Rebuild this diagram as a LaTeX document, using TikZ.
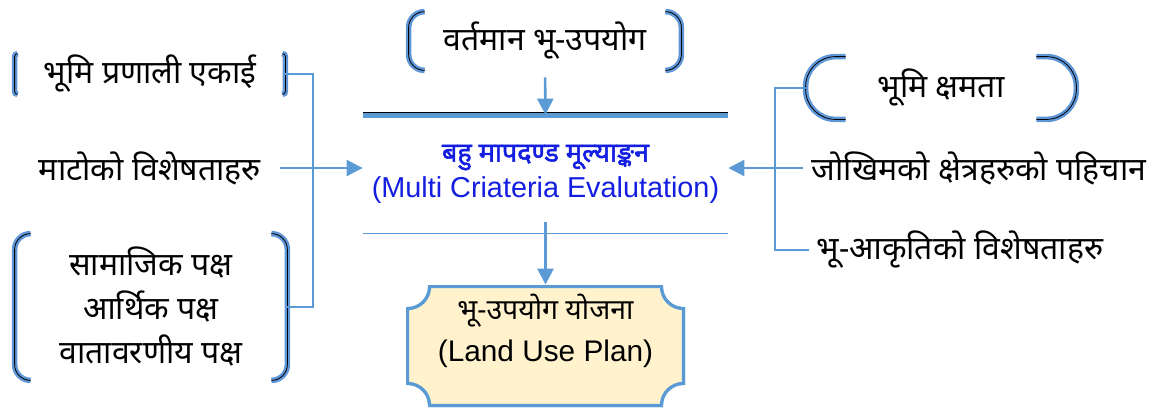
\documentclass[tikz,border=0pt]{standalone}
\usepackage{fontspec}
\setmainfont{Liberation Sans}
\newfontfamily\deva[Script=Devanagari]{Noto Sans}
\newfontfamily\devabold[Script=Devanagari, FakeBold=2]{Noto Sans}
\usetikzlibrary{arrows.meta,backgrounds}

\definecolor{lineblue}{RGB}{91,155,213}
\definecolor{glowblue}{RGB}{95,150,215}
\definecolor{planfill}{RGB}{255,242,204}
\definecolor{mceblue}{RGB}{20,30,225}

\tikzstyle{dev text}  = [font=\deva\fontsize{16}{22}\selectfont, align=center, inner sep=0]
\tikzstyle{link}      = [draw=lineblue, line width=1.3pt]
\tikzstyle{arrow link}= [link, -{Triangle[length=8pt,width=8pt]}]
\tikzstyle{brace}     = [draw=glowblue, line width=2.8pt]
\tikzstyle{brace line}= [draw=black, line width=0.4pt]

% bracket pair round a node: #1 node, #2 depth, #3 corner radius
\newcommand{\bracketpair}[3]{%
  \foreach \bst in {brace,brace line}{
    \draw[\bst] ([xshift=#2]#1.north west) -- ([xshift=#3]#1.north west)
        arc[start angle=90, end angle=180, radius=#3] -- ([yshift=#3]#1.south west)
        arc[start angle=180, end angle=270, radius=#3] -- ([xshift=#2]#1.south west);
    \draw[\bst] ([xshift=-#2]#1.north east) -- ([xshift=-#3]#1.north east)
        arc[start angle=90, end angle=0, radius=#3] -- ([yshift=#3]#1.south east)
        arc[start angle=0, end angle=-90, radius=#3] -- ([xshift=-#2]#1.south east);
  }%
}

\begin{document}
\begin{tikzpicture}[x=0.5pt, y=0.5pt]
    \useasboundingbox (0,0) rectangle (1154,-408);

    % Left inputs
    \node(lsys)[dev text, minimum width=135pt, minimum height=20pt] at (150,-74) {भूमि प्रणाली एकाई};
    \node(lsoil)[dev text, minimum width=130pt] at (150,-168) {माटोको विशेषताहरु};
    \node(lgroup)[dev text, minimum width=136pt, minimum height=73pt] at (151,-307)
        {सामाजिक पक्ष\\आर्थिक पक्ष\\वातावरणीय पक्ष};

    % Current land use
    \node(cur)[dev text, minimum width=136pt, minimum height=29pt] at (545,-41) {वर्तमान भू-उपयोग};

    % Multi criteria evaluation
    \node(mce)[align=center, inner sep=0, minimum width=182.5pt, minimum height=59pt] at (545.5,-174)
        {{\devabold\fontsize{13.5}{18}\selectfont\color{mceblue}बहु मापदण्ड मूल्याङ्कन}\\[2pt]
         {\fontsize{14.4}{16}\selectfont\color{mceblue}(Multi Criateria Evalutation)}};
    \draw[lineblue, line width=3pt] (mce.north west) -- (mce.north east);
    \draw[black, line width=0.4pt] ([yshift=1.1pt]mce.north west) -- ([yshift=1.1pt]mce.north east);
    \draw[glowblue, line width=0.6pt] (mce.south west) -- (mce.south east);

    % Land use plan
    \node(plan)[align=center, inner sep=0, minimum width=137.5pt, text height=37pt, text depth=22pt] at (545.5,-346)
        {{\deva\fontsize{14.2}{21}\selectfont भू-उपयोग योजना}\\[5pt]{\fontsize{14.9}{21}\selectfont (Land Use Plan)}};
    \begin{scope}[on background layer]
        \foreach \pshift/\pfill in {{(3,-3)}/lineblue, {(0,0)}/planfill}{
            \draw[lineblue, line width=1.6pt, fill=\pfill, shift=\pshift]
                ([xshift=11pt]plan.north west) -- ([xshift=-11pt]plan.north east)
                arc[start angle=180, end angle=270, radius=11pt] -- ([yshift=11pt]plan.south east)
                arc[start angle=90, end angle=180, radius=11pt] -- ([xshift=11pt]plan.south west)
                arc[start angle=0, end angle=90, radius=11pt] -- ([yshift=-11pt]plan.north west)
                arc[start angle=270, end angle=360, radius=11pt] -- cycle;
        }
    \end{scope}

    % Right inputs
    \node(cap)[dev text, minimum width=135pt, minimum height=31pt] at (941,-88) {भूमि क्षमता};
    \node(risk)[dev text, minimum width=176pt] at (979,-168) {जोखिमको क्षेत्रहरुको पहिचान};
    \node(geo)[dev text, minimum width=151pt] at (960,-250) {भू-आकृतिको विशेषताहरु};

    % Brackets
    \bracketpair{lsys}{1.5pt}{1.5pt}
    \bracketpair{lgroup}{8pt}{8pt}
    \bracketpair{cur}{8pt}{8pt}
    \bracketpair{cap}{20pt}{15pt}

    % Connectors
    \coordinate(ljoin) at (313,-168);
    \coordinate(rjoin) at (775,-168);
    \draw[link] (lsys.east) -| (ljoin) |- (lgroup.east);
    \draw[arrow link] (lsoil.east) -- (lsoil.east -| mce.west);
    \draw[link] (cap.west) -| (rjoin) |- (geo.west);
    \draw[arrow link] (risk.west) -- (risk.west -| mce.east);
    \draw[arrow link, shorten <=3.5pt] (cur.south) -- (mce.north);
    \draw[arrow link, shorten <=5.5pt] ([yshift=11pt]mce.south) -- ([yshift=1pt]plan.north);

\end{tikzpicture}
\end{document}
